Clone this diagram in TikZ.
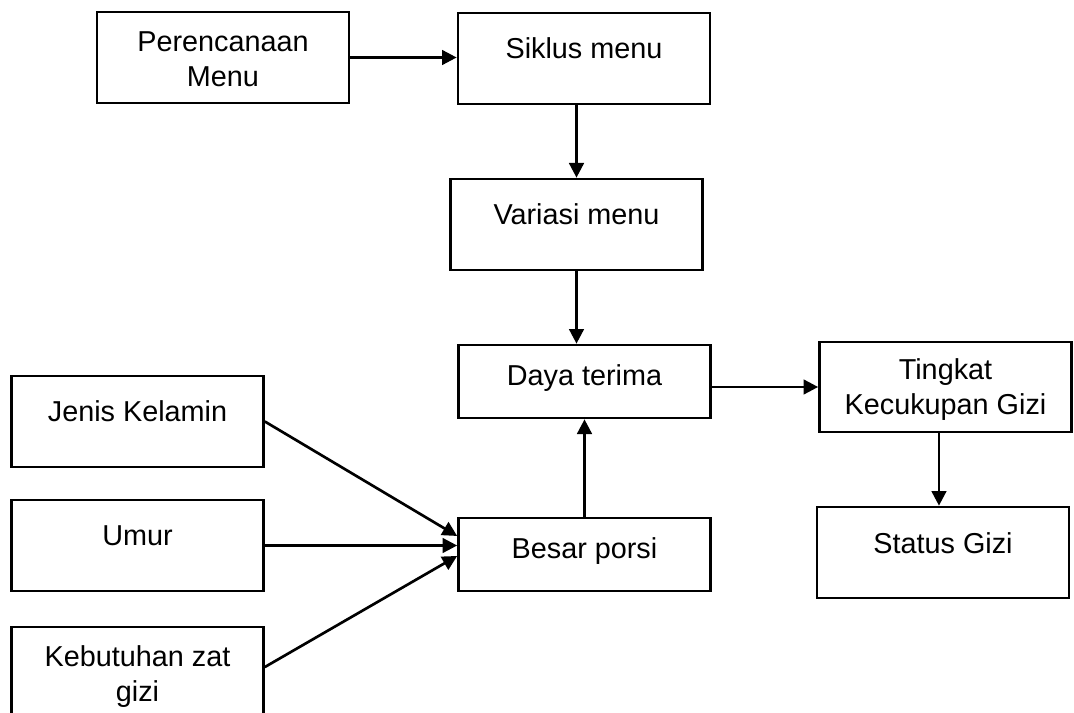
\documentclass[tikz,border=0pt]{standalone}
\usepackage{fontspec}
\setmainfont{Liberation Sans}
\usetikzlibrary{arrows.meta}

% box text: height, top-to-baseline, text
\newcommand{\boxtxt}[3]{\parbox[c][#1pt][t]{189pt}{\centering\rule{0pt}{#2pt}#3}}

\begin{document}
\begin{tikzpicture}[x=0.75pt, y=-0.75pt, line width=2pt,
    main/.style = {draw, rectangle, inner sep=0pt, font=\fontsize{21.6}{26.25}\selectfont},
    arr/.style = {-{Triangle[length=11pt,width=11pt]}}]
        \useasboundingbox (0,0) rectangle (1074,713);
        \node[main] (plan)    at (223,57.5)    {\boxtxt{68.25}{29.5}{Perencanaan\\Menu}};
        \node[main] (siklus)  at (584,58.5)    {\boxtxt{68.25}{34}{Siklus menu}};
        \node[main] (variasi) at (576.5,224.5) {\boxtxt{68.25}{34}{Variasi menu}};
        \node[main] (daya)    at (584.5,381.5) {\boxtxt{54.75}{30}{Daya terima}};
        \node[main] (besar)   at (584.5,554.5) {\boxtxt{54.75}{30}{Besar porsi}};
        \node[main] (tingkat) at (945.5,387)   {\boxtxt{67.5}{28}{Tingkat\\Kecukupan Gizi}};
        \node[main] (status)  at (943,552.5)   {\boxtxt{68.25}{34.5}{Status Gizi}};
        \node[main] (jenis)   at (137.5,421.5) {\boxtxt{68.25}{34}{Jenis Kelamin}};
        \node[main] (umur)    at (137.5,545.5) {\boxtxt{68.25}{34}{Umur}};
        \node[main] (kebu)    at (137.5,672.5) {\boxtxt{68.25}{29.5}{Kebutuhan zat\\gizi}};
        \draw[arr] (plan.east) -- (plan.east -| siklus.west);
        \draw[arr] (variasi.north |- siklus.south) -- (variasi.north);
        \draw[arr] (variasi.south) -- (variasi.south |- daya.north);
        \draw[arr] (besar.north) -- (daya.south);
        \draw[arr] (daya.east |- tingkat.west) -- (tingkat.west);
        \draw[arr] ([xshift=-4.9pt]tingkat.south) -- ([xshift=-4.9pt]tingkat.south |- status.north);
        \draw[arr] (jenis.east) -- ([yshift=13.9pt]besar.west);
        \draw[arr] (umur.east) -- (umur.east -| besar.west);
        \draw[arr] ([yshift=4.1pt]kebu.east) -- ([yshift=-1.1pt]besar.west);
    \end{tikzpicture}
\end{document}
